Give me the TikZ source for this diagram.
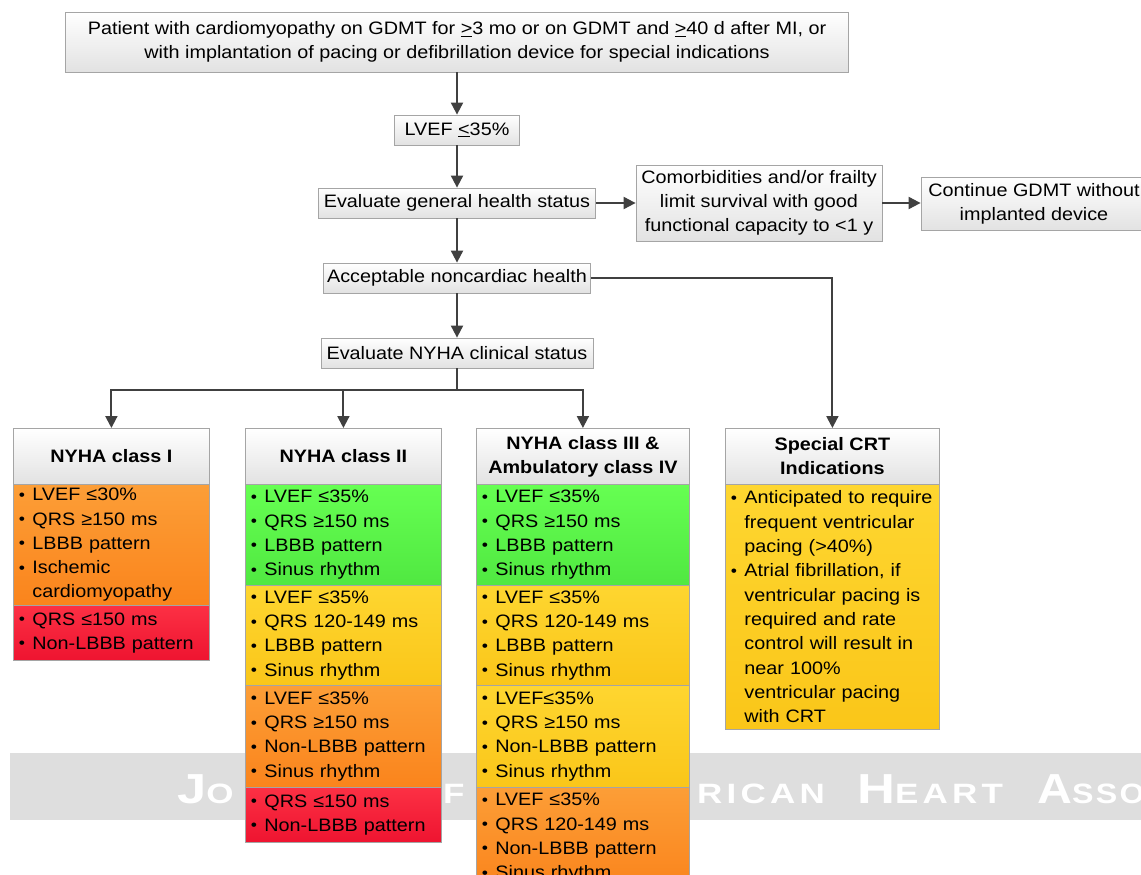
\documentclass[tikz,border=0pt]{standalone}
\usepackage{fontspec}
\setmainfont[FakeStretch=1.1]{Liberation Sans}
\newfontfamily\wmfont[FakeStretch=1.25,LetterSpace=15]{Liberation Sans}
\newfontfamily\wmfonttight[FakeStretch=1.15,LetterSpace=8]{Liberation Sans}
\usetikzlibrary{arrows.meta}
\definecolor{bord}{RGB}{165,165,165}
\definecolor{arrc}{RGB}{64,64,64}
\definecolor{hdrb}{RGB}{226,226,226}
\definecolor{grnT}{RGB}{102,255,82}
\definecolor{grnB}{RGB}{80,232,65}
\definecolor{yelT}{RGB}{254,214,48}
\definecolor{yelB}{RGB}{250,198,25}
\definecolor{orgT}{RGB}{252,158,55}
\definecolor{orgB}{RGB}{250,132,28}
\definecolor{redT}{RGB}{252,48,68}
\definecolor{redB}{RGB}{238,20,48}
\definecolor{wmc}{RGB}{222,222,222}
\newcommand\bul{\makebox[13pt][l]{\hspace*{-0.5pt}\raisebox{0.5pt}{\fontsize{16}{16}\selectfont\textbullet}}}
\newcommand\ind{\hspace*{13pt}}
\newcommand\wmw[2]{{\fontsize{42}{42}\selectfont #1}{\fontsize{28}{28}\selectfont #2}}
\tikzset{
  txt/.style={font=\fontsize{18}{24.3}\selectfont},
  flowbox/.style={txt, draw=bord, line width=0.8pt, top color=white, bottom color=hdrb, align=center, inner sep=0pt},
  hdr/.style={flowbox, anchor=north west, minimum height=56pt, font=\fontsize{18}{24}\selectfont\bfseries},
  sec/.style={txt, draw=bord, line width=0.8pt, anchor=north west, align=left, inner xsep=6pt, inner ysep=0pt},
  grn/.style={top color=grnT, bottom color=grnB},
  yel/.style={top color=yelT, bottom color=yelB},
  org/.style={top color=orgT, bottom color=orgB},
  rd/.style={top color=redT, bottom color=redB},
  conn/.style={draw=arrc, line width=2pt},
  arr/.style={conn, -{Triangle[length=12pt,width=12pt]}},
  wm/.style={anchor=base west, text=white, font=\wmfont\bfseries, inner sep=0pt}
}
\begin{document}
\begin{tikzpicture}[x=1pt,y=-1pt]
\useasboundingbox (0,0) rectangle (1141,875);
\clip (0,0) rectangle (1141,875);
% watermark band (visible fragments only)
\fill[wmc] (10,753) rectangle (1141,820);
\node[wm] (wm1) at (177,803) {\wmw{J}{O}};
\node[wm] (wm2) at (443,803) {\fontsize{28}{28}\selectfont F};
\node[wm] (wm3) at (697,803) {\fontsize{28}{28}\selectfont RICAN};
\node[wm] (wm4) at (857,803) {\wmw{H}{EART}};
\node[wm, font=\wmfonttight\bfseries] (wm5) at (1037,803) {\wmw{A}{SSO}};

% flow boxes
\node[flowbox, minimum width=783pt, minimum height=60pt] (top) at (457,42)
  {Patient with cardiomyopathy on GDMT for \underline{>}3 mo or on GDMT and \underline{>}40 d after MI, or\\with implantation of pacing or defibrillation device for special indications};
\node[flowbox, minimum width=125pt, minimum height=30pt] (lvef) at (457,130) {LVEF \underline{<}35\%};
\node[flowbox, minimum width=277pt, minimum height=30pt] (gen) at (457,203) {Evaluate general health status};
\node[flowbox, minimum width=246pt, minimum height=76pt] (com) at (759,203)
  {Comorbidities and/or frailty\\limit survival with good\\functional capacity to <1 y};
\node[flowbox, minimum width=226pt, minimum height=53pt] (cont) at (1034,203.5)
  {Continue GDMT without\\implanted device};
\node[flowbox, minimum width=267pt, minimum height=30pt] (acc) at (457,278) {Acceptable noncardiac health};
\node[flowbox, minimum width=272pt, minimum height=30pt] (nyha) at (457,353) {Evaluate NYHA clinical status};

% column headers
\node[hdr, minimum width=196pt] (h1) at (13,428) {NYHA class I};
\node[hdr, minimum width=196pt] (h2) at (245,428) {NYHA class II};
\node[hdr, minimum width=213pt] (h3) at (476,428) {NYHA class III \&\\Ambulatory class IV};
\node[hdr, minimum width=214pt] (h4) at (725,428) {Special CRT\\Indications};

% column 1
\node[sec, org, text width=184pt, minimum height=121pt] (s11) at (13,484)
  {\bul LVEF ≤30\%\\\bul QRS ≥150 ms\\\bul LBBB pattern\\\bul Ischemic\\\ind cardiomyopathy};
\node[sec, rd, text width=184pt, minimum height=55pt] (s12) at (13,605)
  {\bul QRS ≤150 ms\\\bul Non-LBBB pattern};

% column 2
\node[sec, grn, text width=184pt, minimum height=101pt] (s21) at (245,484)
  {\bul LVEF ≤35\%\\\bul QRS ≥150 ms\\\bul LBBB pattern\\\bul Sinus rhythm};
\node[sec, yel, text width=184pt, minimum height=100pt] (s22) at (245,585)
  {\bul LVEF ≤35\%\\\bul QRS 120-149 ms\\\bul LBBB pattern\\\bul Sinus rhythm};
\node[sec, org, text width=184pt, minimum height=102pt] (s23) at (245,685)
  {\bul LVEF ≤35\%\\\bul QRS ≥150 ms\\\bul Non-LBBB pattern\\\bul Sinus rhythm};
\node[sec, rd, text width=184pt, minimum height=55pt] (s24) at (245,787)
  {\bul QRS ≤150 ms\\\bul Non-LBBB pattern};

% column 3
\node[sec, grn, text width=201pt, minimum height=101pt] (s31) at (476,484)
  {\bul LVEF ≤35\%\\\bul QRS ≥150 ms\\\bul LBBB pattern\\\bul Sinus rhythm};
\node[sec, yel, text width=201pt, minimum height=100pt] (s32) at (476,585)
  {\bul LVEF ≤35\%\\\bul QRS 120-149 ms\\\bul LBBB pattern\\\bul Sinus rhythm};
\node[sec, yel, text width=201pt, minimum height=102pt] (s33) at (476,685)
  {\bul LVEF≤35\%\\\bul QRS ≥150 ms\\\bul Non-LBBB pattern\\\bul Sinus rhythm};
\node[sec, org, text width=201pt, minimum height=101pt] (s34) at (476,787)
  {\bul LVEF ≤35\%\\\bul QRS 120-149 ms\\\bul Non-LBBB pattern\\\bul Sinus rhythm};

% column 4
\node[sec, yel, text width=202pt, minimum height=245pt] (s41) at (725,484)
  {\bul Anticipated to require\\\ind frequent ventricular\\\ind pacing (>40\%)\\\bul Atrial fibrillation, if\\\ind ventricular pacing is\\\ind required and rate\\\ind control will result in\\\ind near 100\%\\\ind ventricular pacing\\\ind with CRT};

% connectors
\draw[arr] (top.south) -- (lvef.north);
\draw[arr] (lvef.south) -- (gen.north);
\draw[arr] (gen.east) -- (com.west);
\draw[arr] (com.east) -- (com.east -| cont.west);
\draw[arr] (gen.south) -- (acc.north);
\draw[arr] (acc.south) -- (nyha.north);
\draw[arr] (acc.east) -| (h4.north);
\coordinate (split) at (457,390);
\draw[conn] (nyha.south) -- (split);
\draw[arr] (split) -| (h1.north);
\draw[arr] (split) -| (h2.north);
\draw[arr] (split) -| (h3.north);
\end{tikzpicture}
\end{document}
